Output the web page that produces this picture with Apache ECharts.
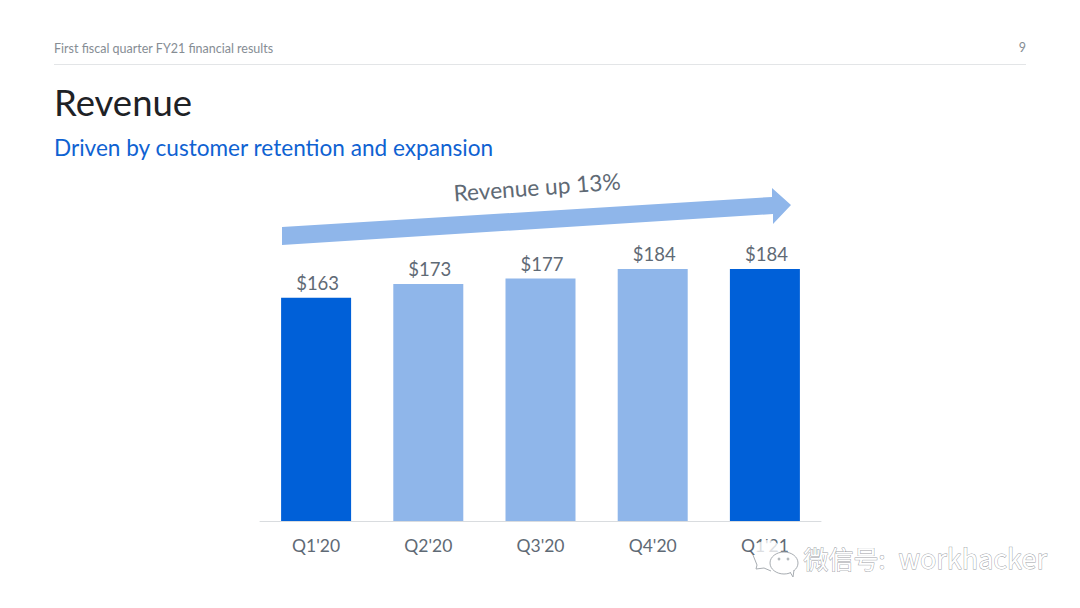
<!DOCTYPE html>
<html>
<head>
<meta charset="utf-8">
<style>html,body{margin:0;padding:0;background:#fff}#c{width:1080px;height:608px}svg text{font-variant-ligatures:none}</style>
<script src="https://cdn.jsdelivr.net/npm/echarts@6/dist/echarts.min.js"></script>
</head>
<body>
<div id="c"></div>
<script>
var categories = ["Q1'20", "Q2'20", "Q3'20", "Q4'20", "Q1'21"];
var revenue = [163, 173, 177, 184, 184];
var highlighted = [true, false, false, false, true];
var headerText = "First fiscal quarter FY21 financial results";
var pageNumber = "9";
var titleText = "Revenue";
var subtitleText = "Driven by customer retention and expansion";
var arrowText = "Revenue up 13%";
var watermarkCn = "微信号:";
var watermarkEn = "workhacker";

var F = "Lato, 'Noto Sans', sans-serif";
var DARK = "#0060d8", LIGHT = "#8fb6ea", GREY = "#5f6a75";
var CJK = "'Noto Sans CJK SC', 'Noto Sans', sans-serif";
var ICON = "#a8adb2";

var chart = echarts.init(document.getElementById("c"), null, {renderer: "svg"});
chart.setOption({
  backgroundColor: "#ffffff",
  animation: false,
  grid: {left: 260, top: 247, width: 561, height: 274, containLabel: false},
  xAxis: {
    type: "category", data: categories,
    axisLine: {lineStyle: {color: "#d9dcdf", width: 1}},
    axisTick: {show: false},
    axisLabel: {color: GREY, fontFamily: F, fontSize: 17.5, margin: 15}
  },
  yAxis: {type: "value", min: 0, max: 200, show: false, splitLine: {show: false}},
  series: [{
    type: "bar", barWidth: 70,
    data: revenue.map(function (v, i) {
      return {value: v, itemStyle: {color: highlighted[i] ? DARK : LIGHT}};
    }),
    label: {
      show: true, position: "top", distance: 5, offset: [1.5, 0],
      formatter: function (p) { return "$" + p.value; },
      color: GREY, fontFamily: F, fontSize: 18.5
    }
  }],
  graphic: [
    {type: "text", left: 54, top: 42, style: {text: headerText, fill: "#868d94", font: "12.5px " + F}},
    {type: "text", right: 54, top: 41, style: {text: pageNumber, fill: "#868d94", font: "12.5px " + F}},
    {type: "line", shape: {x1: 54, y1: 64.5, x2: 1026, y2: 64.5}, style: {stroke: "#e3e5e7", lineWidth: 1}},
    {type: "text", left: 54, top: 83, style: {text: titleText, fill: "#1e2226", font: "36.5px " + F}},
    {type: "text", left: 54, top: 136, style: {text: subtitleText, fill: "#0f62d2", font: "22.6px " + F}},
    {type: "polygon", shape: {points: [[282, 227], [772, 197], [772, 188], [791, 205], [773, 224], [773, 214], [282, 245]]},
      style: {fill: LIGHT}},
    {type: "text", x: 537, y: 187, rotation: 4.2 * Math.PI / 180,
      style: {text: arrowText, fill: GREY, font: "22.7px " + F, align: "center", verticalAlign: "middle", x: 0, y: 0}},
    {type: "group", silent: true, z: 20, children: [
      {type: "ellipse", z: 20, shape: {cx: 768, cy: 549, rx: 12, ry: 9},
        style: {fill: "rgba(255,255,255,0.78)"}},
      {type: "polyline", z: 20, shape: {points: [[753, 555], [757, 565], [756, 569], [764, 568], [771, 571]]},
        style: {fill: "none", stroke: ICON, lineWidth: 1}},
      {type: "ellipse", z: 21, shape: {cx: 784, cy: 563, rx: 14, ry: 11},
        style: {fill: "#ffffff", stroke: ICON, lineWidth: 1}},
      {type: "polyline", z: 21, shape: {points: [[790, 572], [793, 577], [794, 570]]},
        style: {fill: "#ffffff", stroke: ICON, lineWidth: 1}},
      {type: "circle", z: 22, shape: {cx: 779, cy: 559, r: 1.4}, style: {fill: "#b5babe"}},
      {type: "circle", z: 22, shape: {cx: 788, cy: 559, r: 1.4}, style: {fill: "#b5babe"}}
    ]},
    {type: "text", left: 803, top: 545, z: 23, silent: true,
      style: {text: watermarkCn, fill: "#ffffff", stroke: "#9ca1a6", lineWidth: 0.9, font: "25px " + CJK}},
    {type: "text", left: 898, top: 544, z: 23, silent: true,
      style: {text: watermarkEn, fill: "#ffffff", stroke: "#9ca1a6", lineWidth: 0.9, font: "27px " + CJK}}
  ]
});
</script>
</body>
</html>
